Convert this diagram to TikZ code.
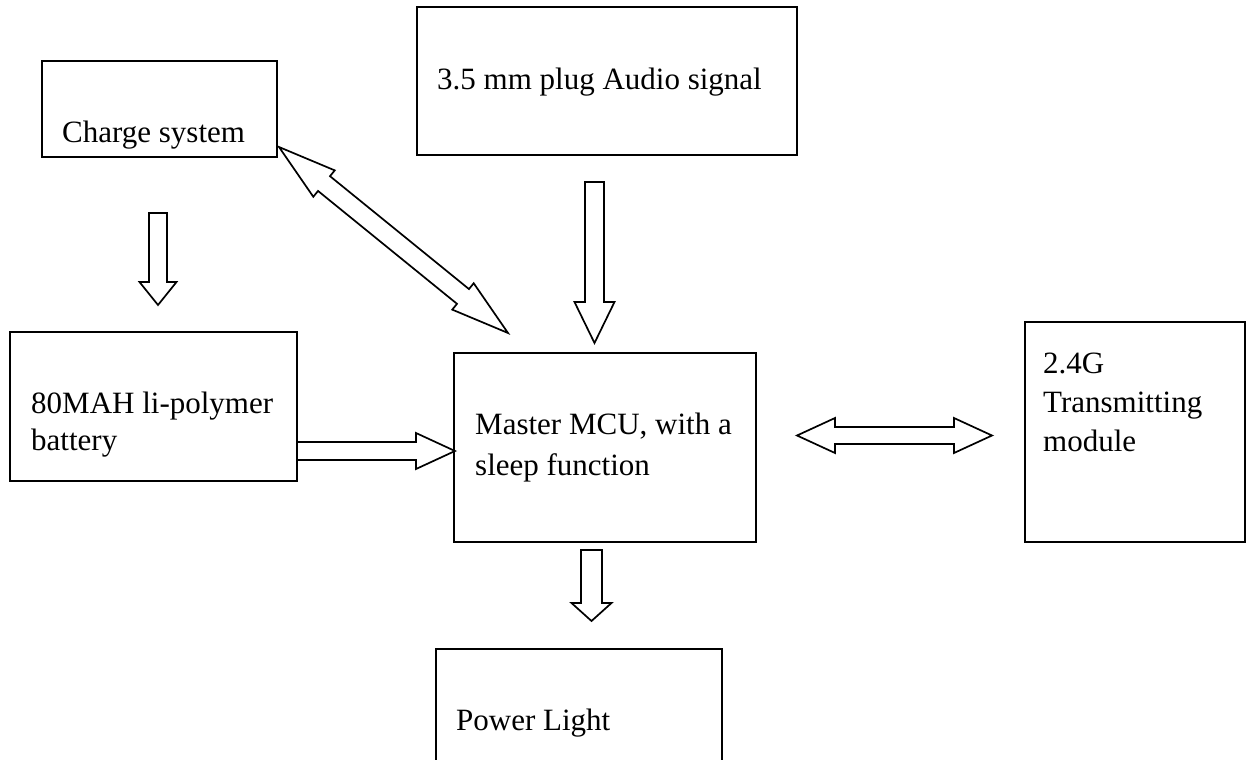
\documentclass[tikz,border=0pt]{standalone}
\usepackage{fontspec}
\setmainfont{Liberation Serif}
\usetikzlibrary{
    calc
}

% hollow block arrow: name, tail, tip, shaft half width, head half width, head length
\newcommand{\fatarrow}[6]{%
    \coordinate (#1-hb) at ($(#3)!#6!(#2)$);
    \draw[blockline]
        ($(#2)!#4!90:(#3)$)
        -- ($(#1-hb)!#4!-90:(#2)$)
        -- ($(#1-hb)!#5!-90:(#2)$)
        -- (#3)
        -- ($(#1-hb)!#5!90:(#2)$)
        -- ($(#1-hb)!#4!90:(#2)$)
        -- ($(#2)!#4!-90:(#3)$)
        -- cycle;
}

% hollow double block arrow: name, end a, end b, shaft half width, head half width, head length
\newcommand{\fatdarrow}[6]{%
    \coordinate (#1-ha) at ($(#2)!#6!(#3)$);
    \coordinate (#1-hb) at ($(#3)!#6!(#2)$);
    \draw[blockline]
        (#2)
        -- ($(#1-ha)!#5!90:(#3)$)
        -- ($(#1-ha)!#4!90:(#3)$)
        -- ($(#1-hb)!#4!-90:(#2)$)
        -- ($(#1-hb)!#5!-90:(#2)$)
        -- (#3)
        -- ($(#1-hb)!#5!90:(#2)$)
        -- ($(#1-hb)!#4!90:(#2)$)
        -- ($(#1-ha)!#4!-90:(#3)$)
        -- ($(#1-ha)!#5!-90:(#3)$)
        -- cycle;
}

\begin{document}
\begin{tikzpicture}[
    x=1pt,
    y=-1pt,
    box/.style={
        draw,
        line width=2pt,
        rectangle,
        inner sep=0pt
    },
    label/.style={
        anchor=base west,
        inner sep=0pt,
        align=left,
        font=\fontsize{31pt}{39pt}\selectfont
    },
    blockline/.style={
        draw=black,
        fill=white,
        line width=1.7pt
    }
]

    \useasboundingbox (0,0) rectangle (1253,760);
    \clip (0,0) rectangle (1253,760);

    % -------------------------------------------------------
    % Boxes
    % -------------------------------------------------------
    \node[box, minimum width=235pt, minimum height=96pt]
        (charge) at (159.5,109) {};
    \node[box, minimum width=380pt, minimum height=148pt]
        (audio) at (607,81) {};
    \node[box, minimum width=287pt, minimum height=149pt]
        (battery) at (153.5,406.5) {};
    \node[box, minimum width=302pt, minimum height=189pt]
        (mcu) at (605,447.5) {};
    \node[box, minimum width=220pt, minimum height=220pt]
        (radio) at (1135,432) {};
    \node[box, minimum width=286pt, minimum height=171pt]
        (power) at (579,734.5) {};

    % -------------------------------------------------------
    % Texts, set flush left as in the boxes
    % (base of a multi-line label is its last line)
    % -------------------------------------------------------
    \node[label] (chargetxt) at (62,142) {Charge system};
    \node[label] (audiotxt) at (437,89) {3.5 mm plug Audio signal};
    \node[label, font=\fontsize{31pt}{37pt}\selectfont]
        (batterytxt) at (31,450) {80MAH li-polymer\\battery};
    \node[label, font=\fontsize{31pt}{41pt}\selectfont]
        (mcutxt) at (475,475) {Master MCU, with a\\sleep function};
    \node[label] (radiotxt) at (1043,451) {2.4G\\Transmitting\\module};
    \node[label] (powertxt) at (456,730) {Power Light};

    % -------------------------------------------------------
    % Block arrows
    % -------------------------------------------------------
    \coordinate (chg-out) at (158,213);
    \coordinate (bat-in) at (158,305);
    \fatarrow{chgbat}{chg-out}{bat-in}{9pt}{18.5pt}{23pt}

    \coordinate (aud-out) at (594.5,182);
    \coordinate (mcu-top) at (594.5,343);
    \fatarrow{audmcu}{aud-out}{mcu-top}{9.5pt}{20pt}{41pt}

    \coordinate (mcu-out) at (591.5,550);
    \coordinate (pwr-in) at (591.5,621);
    \fatarrow{mcupwr}{mcu-out}{pwr-in}{10.5pt}{20pt}{18pt}

    \coordinate (bat-out) at (297,451);
    \coordinate (mcu-left) at (455,451);
    \fatarrow{batmcu}{bat-out}{mcu-left}{9pt}{18pt}{39pt}

    \coordinate (mcu-right) at (797,435.5);
    \coordinate (rad-left) at (992,435.5);
    \fatdarrow{mcurad}{mcu-right}{rad-left}{8.5pt}{17.5pt}{38pt}

    \coordinate (chg-corner) at (279,147);
    \coordinate (mcu-corner) at (508,333);
    \fatdarrow{chgmcu}{chg-corner}{mcu-corner}{9.5pt}{17pt}{58pt}

\end{tikzpicture}
\end{document}
